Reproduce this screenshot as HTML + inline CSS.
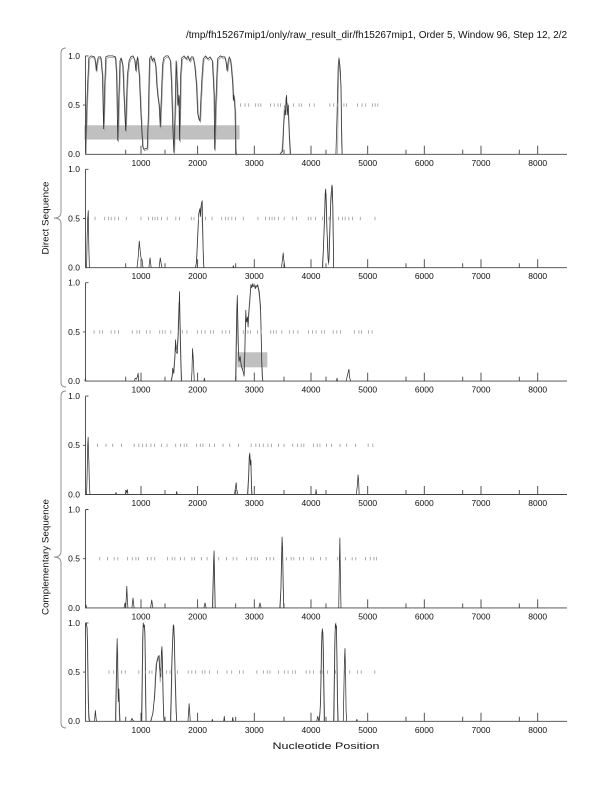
<!DOCTYPE html>
<html><head><meta charset="utf-8"><style>
html,body{margin:0;padding:0;background:#fff}
svg{display:block}
text{font-family:"Liberation Sans",sans-serif;fill:#111}
.ax{fill:none;stroke:#444;stroke-width:0.9}
.tk{fill:none;stroke:#555;stroke-width:0.8}
.tr{fill:none;stroke:#333;stroke-width:0.75;vector-effect:non-scaling-stroke;stroke-linejoin:round}
.tg{fill:none;stroke:#9a9a9a;stroke-width:0.75;vector-effect:non-scaling-stroke;stroke-linejoin:round}
.dm{stroke:#8c8c8c;stroke-width:3.4;fill:none}
.yl{font-size:8.5px;text-anchor:end}
.xl{font-size:8.5px;text-anchor:middle}
.br{fill:none;stroke:#8a8a8a;stroke-width:0.9}
</style></head><body>
<svg width="612" height="792" viewBox="0 0 612 792" xmlns="http://www.w3.org/2000/svg">
<rect width="612" height="792" fill="#fff"/>
<defs>
<path id="axp" d="M85.5,-98.4 V0 H567 M85.5,-98.4 h3 M85.5,-49.2 h-2.5 M141,0 v-8.5 M197.6,0 v-8.5 M254.3,0 v-8.5 M311,0 v-8.5 M367.7,0 v-8.5 M424.3,0 v-8.5 M481,0 v-8.5 M537.7,0 v-8.5 M125.7,0 v-4.5 M165,0 v-4.5 M235.7,0 v-4.5 M284,0 v-4.5 M326,0 v-4.5 M406,0 v-4.5 M462.7,0 v-4.5 M519.3,0 v-4.5"/>
</defs>

<text x="567" y="38" font-size="10" text-anchor="end" textLength="381" lengthAdjust="spacingAndGlyphs">/tmp/fh15267mip1/only/raw_result_dir/fh15267mip1, Order 5, Window 96, Step 12, 2/2</text>

<!-- braces -->
<path class="br" d="M66,48 Q61,48 61,53 L61,212 Q61,218 54,218 Q61,218 61,224 L61,382 Q61,387 66,387"/>
<path class="br" d="M66,391 Q61,391 61,396 L61,551 Q61,557 54,557 Q61,557 61,563 L61,723 Q61,728 66,728"/>
<text transform="translate(48.5,218) rotate(-90)" font-size="9.5" text-anchor="middle" textLength="73" lengthAdjust="spacingAndGlyphs">Direct Sequence</text>
<text transform="translate(48.5,557) rotate(-90)" font-size="9.5" text-anchor="middle" textLength="116" lengthAdjust="spacingAndGlyphs">Complementary Sequence</text>

<text x="326" y="749" font-size="9.5" text-anchor="middle" textLength="107" lengthAdjust="spacingAndGlyphs">Nucleotide Position</text>

<!-- PANEL 1 -->
<g transform="translate(0,154.3)">
<g transform="translate(84.3,0) scale(0.5667,-0.984)">
<rect x="0" y="15" width="274" height="14.5" fill="#c0c0c0"/>
<polyline class="tg" transform="translate(1.3,-1.5)" points="2,2 5,60 8,98 12,100 18,99 20,92 21,85 23,95 25,99 29,99 32,80 34,26 36,70 38,99 42,100 50,100 55,99 57,80 59,14 61,60 63,95 65,98 68,90 70,60 72,35 73,24 74,45 76,80 79,95 82,99 86,100 89,96 91,85 92,93 94,99 97,80 100,40 103,8 105,5 108,6 111,6 113,40 115,97 118,100 120,95 123,98 126,90 128,70 130,58 132,50 134,28 136,60 138,90 140,98 144,100 148,100 152,95 154,70 156,30 158,2 160,40 162,95 164,70 165,50 167,60 168,14 170,80 172,98 176,100 180,97 183,100 186,95 189,99 192,99 195,90 198,70 200,42 202,36 204,34 206,60 208,82 210,97 214,100 218,97 222,99 226,95 229,60 230,5 232,50 235,97 240,100 244,99 248,99 250,94 252,85 254,95 256,99 258,96 260,85 262,70 263,55 264,60 266,45 267,5 268,0"/>
<polyline class="tr" points="2,2 5,60 8,98 12,100 18,99 20,92 21,85 23,95 25,99 29,99 32,80 34,26 36,70 38,99 42,100 50,100 55,99 57,80 59,14 61,60 63,95 65,98 68,90 70,60 72,35 73,24 74,45 76,80 79,95 82,99 86,100 89,96 91,85 92,93 94,99 97,80 100,40 103,8 105,5 108,6 111,6 113,40 115,97 118,100 120,95 123,98 126,90 128,70 130,58 132,50 134,28 136,60 138,90 140,98 144,100 148,100 152,95 154,70 156,30 158,2 160,40 162,95 164,70 165,50 167,60 168,14 170,80 172,98 176,100 180,97 183,100 186,95 189,99 192,99 195,90 198,70 200,42 202,36 204,34 206,60 208,82 210,97 214,100 218,97 222,99 226,95 229,60 230,5 232,50 235,97 240,100 244,99 248,99 250,94 252,85 254,95 256,99 258,96 260,85 262,70 263,55 264,60 266,45 267,5 268,0"/>
<polyline class="tg" points="346,0 349,5 351,25 353,50 355,45 356,58 358,45 359,52 361,25 363,0"/>
<polyline class="tr" points="345,0 350,3 352,30 354,45 355,40 356,55 357,60 358,40 360,50 362,20 364,0"/>
<polyline class="tg" points="447,0 448,60 450,95 452,85 453,60 454,10 455,0"/>
<polyline class="tr" points="444,0 446,40 448,90 449.5,98 451,90 452,80 453,70 454,30 455,0"/>
</g>
<line class="dm" x1="240" y1="-49.2" x2="380" y2="-49.2" stroke-dasharray="0.7 4 0.7 3 0.7 6 0.7 2 0.7 2 0.7 9 0.7 3 0.7 3 0.7 2 0.7 12 0.7 5 0.7 2 0.7 7 0.7 4 0.7 15 0.7 3 0.7 3 0.7 6 0.7 2 0.7 10"/>
<use href="#axp" class="ax"/>
<text class="yl" x="80" y="-95.5">1.0</text><text class="yl" x="80" y="-46.3">0.5</text><text class="yl" x="80" y="2.9">0.0</text>
<text class="xl" x="141" y="11.5">1000</text><text class="xl" x="197.6" y="11.5">2000</text><text class="xl" x="254.3" y="11.5">3000</text><text class="xl" x="311" y="11.5">4000</text><text class="xl" x="367.7" y="11.5">5000</text><text class="xl" x="424.3" y="11.5">6000</text><text class="xl" x="481" y="11.5">7000</text><text class="xl" x="537.7" y="11.5">8000</text>
</g>

<!-- PANEL 2 -->
<g transform="translate(0,267.7)">
<g transform="translate(84.3,0) scale(0.5667,-0.984)">
<polyline class="tr" points="4,0 5,30 6,50 7,58 8,20 9,0"/>
<polyline class="tr" points="93,0 95,10 97,27 99,15 100,10 102,8 103,2 104,0"/>
<polyline class="tr" points="114,0 116,10 118,0"/>
<polyline class="tr" points="132,0 134,10 136,3 137,0"/>
<polyline class="tg" points="197,0 199,20 201,45 203,58 205,60 207,64 209,30 211,0"/>
<polyline class="tr" points="196,0 198,5 200,30 202,55 204,60 205,52 206,62 207,66 208,68 209,40 210,10 211,0"/>
<polyline class="tr" points="262,0 263,2 264,0"/>
<polyline class="tr" points="348,0 350,10 351,15 352,8 354,0"/>
<polyline class="tg" points="421,0 423,40 425,70 427,75 429,20 431,3 433,40 435,65 437,78 439,60 440,0"/>
<polyline class="tr" points="420,0 422,20 424,50 425,75 426,80 427,60 428,40 429,30 430,10 431,5 432,10 433,30 434,50 435,70 436,78 437,84 438,80 439,40 440,0"/>
</g>
<line class="dm" x1="93" y1="-49.2" x2="381" y2="-49.2" stroke-dasharray="0.7 6 0.7 9 0.7 3 0.7 2 0.7 3 0.7 3 0.7 7 0.7 14 0.7 7 0.7 3 0.7 2 0.7 2 0.7 3 0.7 5 0.7 8 0.7 3 0.7 11 0.7 2 0.7 4 0.7 6" stroke-dashoffset="5"/>
<use href="#axp" class="ax"/>
<text class="yl" x="80" y="-95.5">1.0</text><text class="yl" x="80" y="-46.3">0.5</text><text class="yl" x="80" y="2.9">0.0</text>
<text class="xl" x="141" y="11.5">1000</text><text class="xl" x="197.6" y="11.5">2000</text><text class="xl" x="254.3" y="11.5">3000</text><text class="xl" x="311" y="11.5">4000</text><text class="xl" x="367.7" y="11.5">5000</text><text class="xl" x="424.3" y="11.5">6000</text><text class="xl" x="481" y="11.5">7000</text><text class="xl" x="537.7" y="11.5">8000</text>
</g>

<!-- PANEL 3 -->
<g transform="translate(0,381.1)">
<g transform="translate(84.3,0) scale(0.5667,-0.984)">
<rect x="270" y="14" width="53" height="15.3" fill="#c0c0c0"/>
<polyline class="tr" points="1,0 2,3 3,0"/>
<polyline class="tr" points="88,0 90,3 92,2 94,5 95,8 96,0"/>
<polyline class="tg" points="154,0 157,10 159,20 161,38 163,32 165,45 167,80 168,70 170,20 171,0"/>
<polyline class="tr" points="153,0 155,5 156,13 158,8 160,25 161,42 162,30 164,28 166,50 167,69 168,91 169,60 170,35 171,10 172,0"/>
<polyline class="tr" points="189,0 190,10 191,33 192,25 193,15 194,0"/>
<polyline class="tr" points="211,0 212,3 213,0"/>
<polyline class="tg" points="268,0 269,50 270,80 271,40 273,25 276,20 280,10 283,30 285,65 288,60 290,70 292,85 294,95 297,96 300,99 303,95 306,97 309,85 311,70 313,30 315,0"/>
<polyline class="tr" points="267,0 268,40 269,70 270,87 271,60 272,30 273,20 275,25 277,15 279,12 281,8 282,5 283,20 284,50 285,72 286,60 288,65 289,55 291,74 292,80 293,90 294,98 295,95 297,99 298,96 300,97 302,94 303,97 305,96 306,98 307,95 308,93 309,90 310,82 311,76 312,50 313,20 314,5 315,0"/>
<polyline class="tr" points="445,0 446,3 447,0"/>
<polyline class="tr" points="462,0 464,5 466,10 467,12 468,4 470,0"/>
</g>
<line class="dm" x1="92" y1="-49.2" x2="380" y2="-49.2" stroke-dasharray="0.7 3 0.7 5 0.7 2 0.7 8 0.7 3 0.7 3 0.7 13 0.7 4 0.7 2 0.7 6 0.7 3 0.7 9 0.7 2 0.7 2 0.7 5 0.7 7 0.7 3 0.7 4 0.7 10 0.7 3" stroke-dashoffset="2"/>
<use href="#axp" class="ax"/>
<text class="yl" x="80" y="-95.5">1.0</text><text class="yl" x="80" y="-46.3">0.5</text><text class="yl" x="80" y="2.9">0.0</text>
<text class="xl" x="141" y="11.5">1000</text><text class="xl" x="197.6" y="11.5">2000</text><text class="xl" x="254.3" y="11.5">3000</text><text class="xl" x="311" y="11.5">4000</text><text class="xl" x="367.7" y="11.5">5000</text><text class="xl" x="424.3" y="11.5">6000</text><text class="xl" x="481" y="11.5">7000</text><text class="xl" x="537.7" y="11.5">8000</text>
</g>

<!-- PANEL 4 -->
<g transform="translate(0,494.5)">
<g transform="translate(84.3,0) scale(0.5667,-0.984)">
<polyline class="tr" points="4,0 5,20 6,50 6.8,58 7.5,40 8,35 9,10 10,0"/>
<polyline class="tr" points="55,0 56,2 57,0"/>
<polyline class="tr" points="72,0 74,4 75,2 76,5 77,0"/>
<polyline class="tr" points="162,0 163,3 164,0"/>
<polyline class="tr" points="265,0 267,8 268,12 269,5 271,0"/>
<polyline class="tg" points="289,0 291,30 292,40 294,32 295,0"/>
<polyline class="tr" points="288,0 290,20 291,38 292,42 293,30 294,35 295,10 296,0"/>
<polyline class="tr" points="408,0 409,5 410,0"/>
<polyline class="tr" points="480,0 482,10 483,20 484,15 485,0"/>
</g>
<line class="dm" x1="97" y1="-49.2" x2="376" y2="-49.2" stroke-dasharray="0.7 8 0.7 6 0.7 8 0.7 12 0.7 4 0.7 3 0.7 3 0.7 4 0.7 3 0.7 6 0.7 5 0.7 8 0.7 4 0.7 3 0.7 2 0.7 9 0.7 3 0.7 2 0.7 6 0.7 4"/>
<use href="#axp" class="ax"/>
<text class="yl" x="80" y="-95.5">1.0</text><text class="yl" x="80" y="-46.3">0.5</text><text class="yl" x="80" y="2.9">0.0</text>
<text class="xl" x="141" y="11.5">1000</text><text class="xl" x="197.6" y="11.5">2000</text><text class="xl" x="254.3" y="11.5">3000</text><text class="xl" x="311" y="11.5">4000</text><text class="xl" x="367.7" y="11.5">5000</text><text class="xl" x="424.3" y="11.5">6000</text><text class="xl" x="481" y="11.5">7000</text><text class="xl" x="537.7" y="11.5">8000</text>
</g>

<!-- PANEL 5 -->
<g transform="translate(0,607.9)">
<g transform="translate(84.3,0) scale(0.5667,-0.984)">
<polyline class="tr" points="2,0 3,3 4,0"/>
<polyline class="tr" points="70,0 72,5 73,0"/>
<polyline class="tr" points="73,0 74,10 75,22 76,8 77,0"/>
<polyline class="tr" points="84,0 85,5 86,10 87,4 88,0"/>
<polyline class="tr" points="117,0 119,8 121,0"/>
<polyline class="tr" points="211,0 213,5 215,0"/>
<polyline class="tg" points="227,0 228,35 229,50 230,20 231,0"/>
<polyline class="tr" points="226,0 227,20 228,45 229,58 230,30 231,0"/>
<polyline class="tr" points="308,0 310,5 312,0"/>
<polyline class="tg" points="346,0 348,40 349,65 351,30 352,0"/>
<polyline class="tr" points="345,0 347,20 348,50 349,72 350,60 351,20 352,0"/>
<polyline class="tr" points="449,0 450,40 451,71 452,30 453,0"/>
</g>
<line class="dm" x1="90" y1="-49.2" x2="381" y2="-49.2" stroke-dasharray="0.7 5 0.7 11 0.7 7 0.7 6 0.7 3 0.7 9 0.7 4 0.7 3 0.7 2 0.7 8 0.7 3 0.7 3 0.7 12 0.7 4 0.7 2 0.7 5 0.7 3 0.7 7 0.7 2 0.7 6" stroke-dashoffset="8"/>
<use href="#axp" class="ax"/>
<text class="yl" x="80" y="-95.5">1.0</text><text class="yl" x="80" y="-46.3">0.5</text><text class="yl" x="80" y="2.9">0.0</text>
<text class="xl" x="141" y="11.5">1000</text><text class="xl" x="197.6" y="11.5">2000</text><text class="xl" x="254.3" y="11.5">3000</text><text class="xl" x="311" y="11.5">4000</text><text class="xl" x="367.7" y="11.5">5000</text><text class="xl" x="424.3" y="11.5">6000</text><text class="xl" x="481" y="11.5">7000</text><text class="xl" x="537.7" y="11.5">8000</text>
</g>

<!-- PANEL 6 -->
<g transform="translate(0,721.3)">
<g transform="translate(84.3,0) scale(0.5667,-0.984)">
<polyline class="tg" points="2,97 4,99 6,80 7,40 8,10 10,0"/>
<polyline class="tr" points="2,98 3,100 5,95 6,60 7,20 8,3 9,0"/>
<polyline class="tr" points="18,0 19.5,11 21,2 22,0"/>
<polyline class="tg" points="56,0 57,50 58,78 59,70 60,30 61,25 62,0"/>
<polyline class="tr" points="55,0 56,30 57,60 58,84 59,50 60,20 61,33 62,15 63,0"/>
<polyline class="tr" points="82,0 84,3 86,1 88,0"/>
<polyline class="tg" points="102,0 103,60 104,95 106,97 107,80 108,20 109,0"/>
<polyline class="tr" points="101,0 102,40 103,85 104,100 105,96 106,98 107,90 108,50 109,0"/>
<polyline class="tg" points="118,0 120,6 122,12 124,30 126,55 128,62 130,66 132,60 134,40 136,65 137,70 139,20 141,0"/>
<polyline class="tr" points="117,0 119,4 121,8 123,20 124,23 126,45 128,60 130,64 132,67 133,55 134,50 135,45 136,70 137,76 138,60 139,30 140,5 141,0"/>
<polyline class="tg" points="153,0 154,30 155,60 156,80 157,92 158,98 159,85 160,60 162,20 163,0"/>
<polyline class="tr" points="152,0 153,20 154,50 155,70 156,85 157,98 158,95 159,80 160,50 161,30 162,10 163,0"/>
<polyline class="tr" points="183,0 185,18 187,0"/>
<polyline class="tr" points="225,0 226,2 227,0"/>
<polyline class="tr" points="246,0 247,5 248,0"/>
<polyline class="tr" points="261,0 262,4 263,0"/>
<polyline class="tg" points="415,0 416,8 417,30 418,65 419,90 420,92 421,80 422,40 423,0"/>
<polyline class="tr" points="410,0 412,5 414,0 415,5 416,10 417,20 418,50 419,80 420,94 421,90 422,70 423,30 424,0"/>
<polyline class="tg" points="441,0 442,60 443,95 444,100 445,92 446,40 447,0"/>
<polyline class="tr" points="440,0 441,40 442,80 443,99 444,95 445,97 446,60 447,20 448,0"/>
<polyline class="tr" points="457,0 458,30 459,60 460,74 461,50 462,10 463,0"/>
<polyline class="tr" points="480,0 481,2 482,0"/>
</g>
<line class="dm" x1="102" y1="-49.2" x2="381" y2="-49.2" stroke-dasharray="0.7 9 0.7 4 0.7 7 0.7 3 0.7 13 0.7 6 0.7 3 0.7 2 0.7 8 0.7 5 0.7 3 0.7 4 0.7 2 0.7 10 0.7 3 0.7 3 0.7 6 0.7 2 0.7 4 0.7 7" stroke-dashoffset="3"/>
<use href="#axp" class="ax"/>
<text class="yl" x="80" y="-95.5">1.0</text><text class="yl" x="80" y="-46.3">0.5</text><text class="yl" x="80" y="2.9">0.0</text>
<text class="xl" x="141" y="11.5">1000</text><text class="xl" x="197.6" y="11.5">2000</text><text class="xl" x="254.3" y="11.5">3000</text><text class="xl" x="311" y="11.5">4000</text><text class="xl" x="367.7" y="11.5">5000</text><text class="xl" x="424.3" y="11.5">6000</text><text class="xl" x="481" y="11.5">7000</text><text class="xl" x="537.7" y="11.5">8000</text>
</g>
</svg>
</body></html>
